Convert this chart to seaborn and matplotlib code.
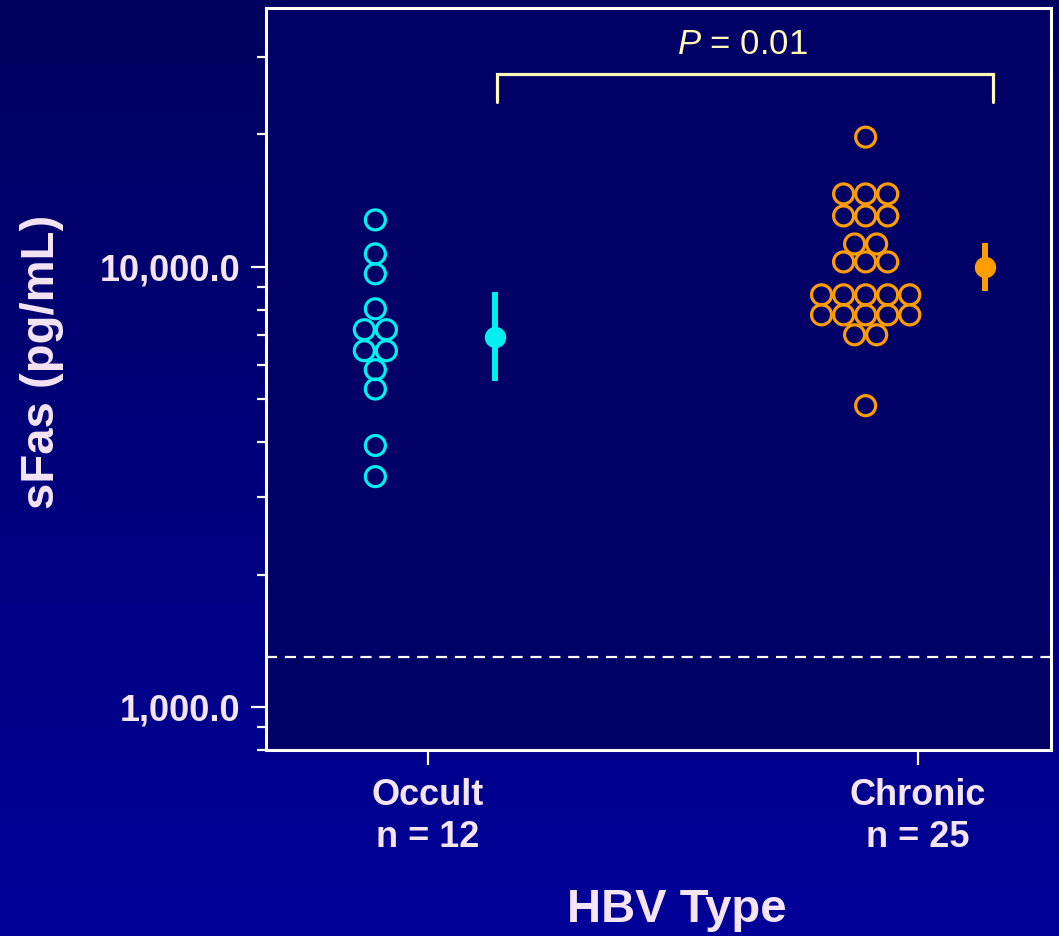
import numpy as np
import pandas as pd
import matplotlib
matplotlib.use("Agg")
import matplotlib.pyplot as plt
import seaborn as sns

# datos (pg/mL)
grupos = ["Occult", "Chronic"]
n_grupo = [12, 25]
occult = [12780, 10700, 9640, 8030, 7200, 7200, 6450, 6450, 5840, 5280, 3930, 3340]
chronic = [19700, 14640, 14640, 14640, 13050, 13050, 13050, 11270, 11270,
           10260, 10260, 10260, 8640, 8640, 8640, 8640, 8640,
           7780, 7780, 7780, 7780, 7780, 7010, 7010, 4840]
media = [6940, 10000]
ic_bajo = [5510, 8820]
ic_alto = [8780, 11340]
limite_det = 1300
p_texto = "$P$ = 0.01"

colores = ["#00F0F0", "#FF9C00"]
texto_col = "#F4E4F4"
p_col = "#FFF8B8"

sns.set_style("ticks")
plt.rcParams["font.family"] = ["Liberation Sans", "DejaVu Sans"]
plt.rcParams["mathtext.fontset"] = "custom"
plt.rcParams["mathtext.it"] = "Liberation Sans:italic"
plt.rcParams["mathtext.rm"] = "Liberation Sans"

# puntos en filas: valores iguales van lado a lado
sep = 0.045
filas = []
for i, vals in enumerate([occult, chronic]):
    s = pd.Series(vals)
    for v, cnt in s.value_counts(sort=False).items():
        for k in range(cnt):
            filas.append({"grupo": grupos[i], "x": i - 0.107 + (k - (cnt - 1) / 2) * sep, "sfas": v})
df = pd.DataFrame(filas)

fig = plt.figure(figsize=(10.59, 9.36), dpi=100)

# fondo degradado
bg = fig.add_axes([0, 0, 1, 1], zorder=-10)
grad = np.linspace(0, 1, 256).reshape(-1, 1)
cmap = matplotlib.colors.LinearSegmentedColormap.from_list("fondo", ["#00005E", "#000099"])
bg.imshow(grad, aspect="auto", cmap=cmap, extent=[0, 1, 0, 1])
bg.axis("off")

ax = fig.add_axes([0.2512, 0.1987, 0.7412, 0.7928])
ax.set_facecolor("#000066")

sns.scatterplot(data=df, x="x", y="sfas", hue="grupo", palette=colores, legend=False,
                s=207, linewidth=2.3, ax=ax, zorder=3)
col = ax.collections[-1]
fc = col.get_facecolors()
col.set_edgecolors(fc)
col.set_facecolors("none")

# media e intervalo
for i in range(2):
    xm = i + 0.137
    ax.errorbar([xm], [media[i]], yerr=[[media[i] - ic_bajo[i]], [ic_alto[i] - media[i]]],
                fmt="o", color=colores[i], markersize=14.4, elinewidth=4.3, capsize=0, zorder=4)

ax.axhline(limite_det, color="white", lw=1.6, ls=(0, (5, 3.5)), zorder=2)

# corchete P
x0, x1 = 0.141, 1.153
ax.plot([x0, x0, x1, x1], [23700, 27400, 27400, 23700], color=p_col, lw=2.3, zorder=3,
        solid_joinstyle="miter")
fig.text(742 / 1059, 1 - 45 / 936, p_texto, color=p_col, fontsize=25, ha="center", va="center")

ax.set_yscale("log")
ax.set_ylim(800, 38700)
ax.set_xlim(-0.33, 1.271)
ax.set_yticks([1000, 10000])
ax.set_yticklabels(["1,000.0", "10,000.0"])
ax.set_xticks([0, 1])
ax.set_xticklabels([f"{g}\nn = {n}" for g, n in zip(grupos, n_grupo)])
ax.set_xlabel("")
ax.set_ylabel("")

for sp in ax.spines.values():
    sp.set_color("white")
    sp.set_linewidth(2.2)
ax.tick_params(axis="both", which="major", length=10.5, width=1.6, color="white",
               labelcolor=texto_col, labelsize=26, pad=8)
ax.tick_params(axis="x", which="major", pad=10)
ax.tick_params(axis="y", which="minor", length=6.5, width=1.6, color="white")
ax.tick_params(axis="x", which="minor", length=0)
for lab in ax.get_xticklabels() + ax.get_yticklabels():
    lab.set_fontweight("bold")
for lab in ax.get_xticklabels():
    lab.set_linespacing(1.25)

fig.text(42 / 1059, 1 - 362 / 936, "sFas (pg/mL)", rotation=90, color=texto_col,
         fontsize=34, fontweight="bold", ha="center", va="center")
fig.text(677 / 1059, 1 - 910 / 936, "HBV Type", color=texto_col,
         fontsize=34, fontweight="bold", ha="center", va="center")

fig.savefig("out.png", dpi=100)
